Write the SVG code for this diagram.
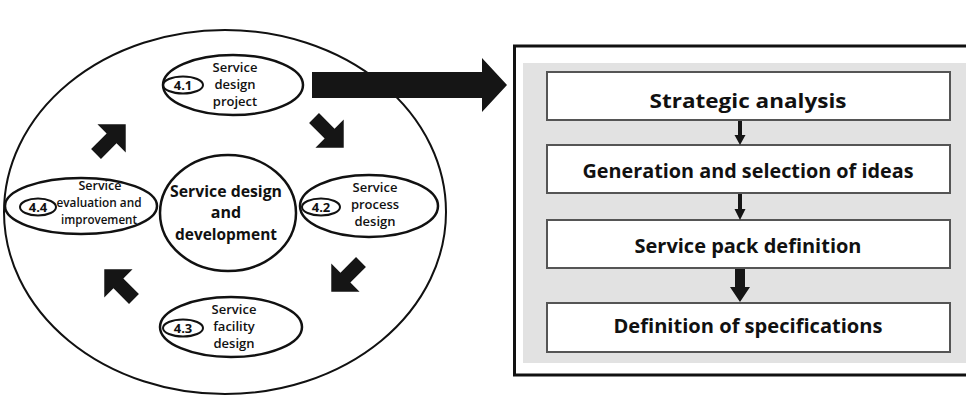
<svg xmlns="http://www.w3.org/2000/svg" width="966" height="396" viewBox="0 0 966 396">
<defs>
<style>
.ell{fill:#fff;stroke:#111;stroke-width:2.5}
.num{fill:none;stroke:#111;stroke-width:2}
.lbl{font-family:"Open Sans","Noto Sans",sans-serif;font-size:13px;font-weight:600;fill:#111;text-anchor:middle}
.sm{font-size:12.5px}
.nlbl{font-family:"Open Sans","Noto Sans",sans-serif;font-size:13px;font-weight:700;fill:#111;text-anchor:middle}
.ctr{font-family:"Open Sans","Noto Sans",sans-serif;font-size:16px;font-weight:700;fill:#111;text-anchor:middle}
.box{fill:#fff;stroke:#555;stroke-width:2}
.btxt{font-family:"Open Sans","Noto Sans",sans-serif;font-size:19px;font-weight:700;fill:#111;text-anchor:middle}
.blk{fill:#151515}
</style>
<path id="cycArrow" d="M18,0 L-2,-20 L-2,-7 L-24,-7 L-24,7 L-2,7 L-2,20 Z"/>
</defs>

<g id="outer-circle">
<ellipse cx="225" cy="212" rx="221" ry="182" fill="#fff" stroke="#111" stroke-width="2"/>
</g>

<g id="panel">
<rect x="514.5" y="46" width="460" height="329" fill="#fff" stroke="#111" stroke-width="3"/>
<rect x="523" y="63" width="450" height="300" fill="#e2e2e2"/>
</g>

<g id="node-center">
<ellipse class="ell" cx="228" cy="213" rx="68" ry="58"/>
<text class="ctr" x="226" y="197" textLength="112" lengthAdjust="spacingAndGlyphs">Service design</text>
<text class="ctr" x="226" y="218">and</text>
<text class="ctr" x="226" y="240" textLength="102" lengthAdjust="spacingAndGlyphs">development</text>
</g>

<g id="node-4-1">
<ellipse class="ell" cx="233" cy="85" rx="70" ry="30"/>
<ellipse class="num" cx="183" cy="85" rx="20" ry="8.5"/>
<text class="nlbl" x="183" y="89.5">4.1</text>
<text class="lbl" x="235" y="72">Service</text>
<text class="lbl" x="235" y="89">design</text>
<text class="lbl" x="235" y="106">project</text>
</g>

<g id="node-4-2">
<ellipse class="ell" cx="369" cy="206" rx="69" ry="31"/>
<ellipse class="num" cx="321" cy="207" rx="19" ry="8.5"/>
<text class="nlbl" x="321" y="211.5">4.2</text>
<text class="lbl" x="375" y="192">Service</text>
<text class="lbl" x="375" y="209">process</text>
<text class="lbl" x="375" y="226">design</text>
</g>

<g id="node-4-3">
<ellipse class="ell" cx="231" cy="327" rx="71" ry="30"/>
<ellipse class="num" cx="183" cy="328" rx="20" ry="8.5"/>
<text class="nlbl" x="183" y="332.5">4.3</text>
<text class="lbl" x="234" y="314">Service</text>
<text class="lbl" x="234" y="331">facility</text>
<text class="lbl" x="234" y="348">design</text>
</g>

<g id="node-4-4">
<ellipse class="ell" cx="81" cy="206" rx="76" ry="28"/>
<ellipse class="num" cx="38" cy="207" rx="18" ry="8.5"/>
<text class="nlbl" x="38" y="211.5">4.4</text>
<text class="lbl sm" x="100" y="190">Service</text>
<text class="lbl sm" x="99" y="207" textLength="85" lengthAdjust="spacingAndGlyphs">evaluation and</text>
<text class="lbl sm" x="99" y="224" textLength="76" lengthAdjust="spacingAndGlyphs">improvement</text>
</g>

<g id="step-1">
<rect class="box" x="547" y="72" width="403" height="48"/>
<text class="btxt" x="748" y="108" textLength="197" lengthAdjust="spacingAndGlyphs">Strategic analysis</text>
</g>
<g id="step-2">
<rect class="box" x="547" y="145" width="403" height="48"/>
<text class="btxt" x="748" y="178" textLength="331" lengthAdjust="spacingAndGlyphs">Generation and selection of ideas</text>
</g>
<g id="step-3">
<rect class="box" x="547" y="220" width="403" height="48"/>
<text class="btxt" x="748" y="253" textLength="227" lengthAdjust="spacingAndGlyphs">Service pack definition</text>
</g>
<g id="step-4">
<rect class="box" x="547" y="303" width="403" height="49"/>
<text class="btxt" x="748" y="333" textLength="269" lengthAdjust="spacingAndGlyphs">Definition of specifications</text>
</g>

<g id="connectors">
<use href="#cycArrow" class="blk" transform="translate(113,137) rotate(-45)"/>
<use href="#cycArrow" class="blk" transform="translate(331,135) rotate(45)"/>
<use href="#cycArrow" class="blk" transform="translate(344,279) rotate(135)"/>
<use href="#cycArrow" class="blk" transform="translate(117,282) rotate(-135)"/>
<path class="blk" d="M312,72 L482,72 L482,58 L507,85 L482,112 L482,98 L312,98 Z"/>
<path class="blk" d="M738,121 L742,121 L742,135 L745.5,135 L740,145 L734.5,135 L738,135 Z"/>
<path class="blk" d="M738,194 L742,194 L742,209 L745.5,209 L740,220 L734.5,209 L738,209 Z"/>
<path class="blk" d="M735,269 L745,269 L745,287 L750,287 L740,302 L730,287 L735,287 Z"/>
</g>
</svg>
